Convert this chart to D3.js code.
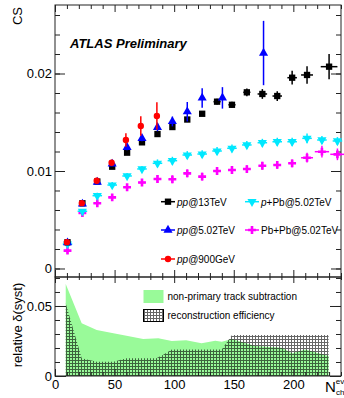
<!DOCTYPE html>
<html>
<head>
<meta charset="utf-8">
<script src="https://cdn.jsdelivr.net/npm/d3@7"></script>
<style>
  body { margin: 0; background: #fff; }
  svg { font-family: "Liberation Sans", Arial, Helvetica, sans-serif; }
</style>
</head>
<body>
<svg id="chart" width="344" height="398"></svg>
<script>
// bin centres (N_ch^ev)
const nBins = [10.5, 23, 35.5, 48, 60.5, 73, 86, 98.5, 111, 123.5, 136, 148.5, 161, 174, 186.5, 199, 211.5, 224, 237];

// pp @ 13 TeV
const n13 = [10.5, 23, 35.5, 48, 60.5, 73, 86, 98.5, 111, 123.5, 136, 148.5, 161, 174, 186.5, 199, 211.5, 230];
const cs13 = [0.00269, 0.00669, 0.00892, 0.01044, 0.01188, 0.01294, 0.01379, 0.01451, 0.01528, 0.01587, 0.01711, 0.01679, 0.01807, 0.0179, 0.01769, 0.01957, 0.01985, 0.0207];
const err13 = [0.0001, 0.0001, 0.0001, 0.0001, 0.0001, 0.0001, 0.0001, 0.0001, 0.0002, 0.0002, 0.0003, 0.0003, 0.0004, 0.0005, 0.0005, 0.0007, 0.0009, 0.0013];
const xerr13 = [0, 0, 0, 0, 0, 0, 0, 0, 0, 0, 3, 3, 3, 4, 4, 4, 5, 7];

// pp @ 5.02 TeV
const n5 = [10.5, 23, 35.5, 48, 60.5, 73, 86, 98.5, 111, 123.5, 140.5, 175];
const cs5 = [0.00265, 0.00662, 0.00887, 0.01072, 0.01243, 0.01335, 0.01448, 0.01508, 0.01608, 0.01749, 0.0175, 0.0221];
const err5 = [0.0001, 0.0001, 0.0002, 0.0002, 0.0003, 0.0003, 0.0004, 0.0005, 0.001, 0.001, 0.0011, 0.0033];

// pp @ 900 GeV
const n09 = [10, 22.5, 35, 47.5, 59.5, 72, 85.5];
const cs09 = [0.0027, 0.0067, 0.009, 0.01085, 0.01318, 0.01462, 0.01564];
const err09 = [0.0001, 0.0002, 0.0003, 0.0003, 0.0007, 0.001, 0.0014];

// p+Pb @ 5.02 TeV
const csPPb = [0.00251, 0.00587, 0.00747, 0.00856, 0.00949, 0.01021, 0.01079, 0.01106, 0.01164, 0.01174, 0.01205, 0.01233, 0.01267, 0.0129, 0.013, 0.013, 0.01335, 0.01318, 0.01308];
const errPPb = [0.0002, 0.0002, 0.0003, 0.0003, 0.0003, 0.0003, 0.0004, 0.0004, 0.0004, 0.0004, 0.0004, 0.0004, 0.0004, 0.0004, 0.0004, 0.0004, 0.0005, 0.0004, 0.0004];

// Pb+Pb @ 5.02 TeV
const csPbPb = [0.00183, 0.00569, 0.00669, 0.0073, 0.00833, 0.00882, 0.00918, 0.00915, 0.00976, 0.00942, 0.01, 0.0101, 0.0102, 0.01054, 0.01062, 0.01079, 0.01136, 0.01198, 0.01171];
const errPbPb = [0.0003, 0.0003, 0.0003, 0.0003, 0.0003, 0.0003, 0.0004, 0.0004, 0.0004, 0.0004, 0.0004, 0.0004, 0.0004, 0.0004, 0.0004, 0.0004, 0.0005, 0.0006, 0.0006];
const xerrPbPb = [3, 3, 3, 3, 3, 3, 3, 3, 3, 3, 3, 3, 3, 3, 3, 3, 5, 6, 6];

// relative systematics
const nNonPrim = [9, 22.4, 35, 49, 60, 74, 86.7, 98, 110, 123, 134.5, 140, 148.5, 168, 190.4, 199, 210, 229.6];
const nonPrim = [0.0657, 0.0376, 0.0329, 0.0305, 0.0288, 0.0264, 0.0269, 0.025, 0.0255, 0.0234, 0.0252, 0.0245, 0.0265, 0.0214, 0.0202, 0.0162, 0.019, 0.0143];
const nReco = [9, 22.4, 35, 49, 60, 85, 90.5, 98, 140, 148.5, 229.6];
const reco = [0.052, 0.0126, 0.0102, 0.0102, 0.0126, 0.0126, 0.015, 0.019, 0.019, 0.0293, 0.0293];

const xTicks = [0, 50, 100, 150, 200];
const yTopTicks = [0, 0.01, 0.02];
const yBotTicks = [0, 0.05];

const svg = d3.select("#chart");
const L = 55, R = 341, T = 5, M = 277, B = 376;

const x = d3.scaleLinear().domain([0, 240]).range([L, R]);
const y = d3.scaleLinear().domain([-0.000872, 0.027026]).range([M, T]);
const yb = d3.scaleLinear().domain([0, 0.0707]).range([B, M]);

const defs = svg.append("defs");
const pat = defs.append("pattern").attr("id", "hatch")
  .attr("width", 3).attr("height", 3).attr("patternUnits", "userSpaceOnUse");
pat.append("rect").attr("x", 0).attr("y", 0).attr("width", 1).attr("height", 3).attr("fill", "#000");
pat.append("rect").attr("x", 0).attr("y", 0).attr("width", 3).attr("height", 1).attr("fill", "#000");

// ---- bottom panel: systematics ----
const area = (xs) => d3.area().x((d, i) => x(xs[i])).y0(yb(0)).y1(d => yb(d));
svg.append("path").datum(nonPrim).attr("d", area(nNonPrim)).attr("fill", "#99fa99");
svg.append("path").datum(reco).attr("d", area(nReco)).attr("fill", "url(#hatch)").attr("opacity", 0.6);

// ---- axes with inner ticks on every side ----
function range(a, b, s) { const r = []; for (let v = a; v <= b + 1e-9; v += s) r.push(+v.toFixed(4)); return r; }
const xMinor = range(0, 240, 10).filter(v => v % 50 !== 0);
const yTopMinor = range(0, 0.026, 0.002);
const yBotMinor = range(0, 0.07, 0.01);

function tickGroup(axis, tx, ty) {
  const g = svg.append("g").attr("transform", `translate(${tx},${ty})`).call(axis);
  g.select(".domain").remove();
  g.selectAll("line").attr("stroke", "#222");
  return g;
}
// top panel
tickGroup(d3.axisBottom(x).tickValues(xTicks).tickSize(-7).tickFormat(""), 0, M);
tickGroup(d3.axisBottom(x).tickValues(xMinor).tickSize(-4).tickFormat(""), 0, M);
tickGroup(d3.axisTop(x).tickValues(xTicks).tickSize(-7).tickFormat(""), 0, T);
tickGroup(d3.axisTop(x).tickValues(xMinor).tickSize(-4).tickFormat(""), 0, T);
tickGroup(d3.axisLeft(y).tickValues(yTopMinor).tickSize(-5).tickFormat(""), L, 0);
tickGroup(d3.axisRight(y).tickValues(yTopMinor).tickSize(-5).tickFormat(""), R, 0);
tickGroup(d3.axisRight(y).tickValues(yTopTicks).tickSize(-10).tickFormat(""), R, 0);
const gyl = tickGroup(d3.axisLeft(y).tickValues(yTopTicks).tickSize(-10).tickPadding(3)
  .tickFormat(d => d === 0 ? "0" : d3.format(".2f")(d).replace(/0$/, "")), L, 0);
gyl.selectAll("text").attr("font-size", 13).attr("fill", "#000").attr("font-family", null);

// bottom panel
tickGroup(d3.axisTop(x).tickValues(xTicks).tickSize(-6).tickFormat(""), 0, M);
tickGroup(d3.axisTop(x).tickValues(xMinor).tickSize(-3).tickFormat(""), 0, M);
tickGroup(d3.axisBottom(x).tickValues(xMinor).tickSize(-4).tickFormat(""), 0, B);
const gxb = tickGroup(d3.axisBottom(x).tickValues(xTicks).tickSize(-7).tickPadding(4), 0, B);
gxb.selectAll("text").attr("font-size", 13).attr("fill", "#000").attr("font-family", null);
tickGroup(d3.axisLeft(yb).tickValues(yBotMinor).tickSize(-5).tickFormat(""), L, 0);
tickGroup(d3.axisRight(yb).tickValues(yBotMinor).tickSize(-5).tickFormat(""), R, 0);
tickGroup(d3.axisRight(yb).tickValues(yBotTicks).tickSize(-11).tickFormat(""), R, 0);
const gybl = tickGroup(d3.axisLeft(yb).tickValues(yBotTicks).tickSize(-11).tickPadding(3)
  .tickFormat(d => d === 0 ? "0" : d3.format(".2f")(d)), L, 0);
gybl.selectAll("text").attr("font-size", 13).attr("fill", "#000").attr("font-family", null);

// frames
svg.append("rect").attr("x", L).attr("y", T).attr("width", R - L).attr("height", M - T)
  .attr("fill", "none").attr("stroke", "#222");
svg.append("rect").attr("x", L).attr("y", M).attr("width", R - L).attr("height", B - M)
  .attr("fill", "none").attr("stroke", "#222");

// ---- top panel: data ----
const sym = {
  square: d3.symbol().type(d3.symbolSquare).size(40),
  tri: d3.symbol().type(d3.symbolTriangle).size(36),
  circle: d3.symbol().type(d3.symbolCircle).size(32),
  cross: d3.symbol().type(d3.symbolCross).size(34)
};

function series(xs, ys, es, xes, color, marker, rot) {
  const g = svg.append("g");
  const pts = ys.map((v, i) => ({ n: xs[i], v, e: es[i], xe: xes ? xes[i] : 0 }));
  g.selectAll(".ey").data(pts).join("line")
    .attr("x1", d => x(d.n)).attr("x2", d => x(d.n))
    .attr("y1", d => y(d.v - d.e)).attr("y2", d => y(d.v + d.e))
    .attr("stroke", color).attr("stroke-width", 1.5);
  g.selectAll(".ex").data(pts.filter(d => d.xe > 0)).join("line")
    .attr("x1", d => x(d.n - d.xe)).attr("x2", d => x(d.n + d.xe))
    .attr("y1", d => y(d.v)).attr("y2", d => y(d.v))
    .attr("stroke", color).attr("stroke-width", 1.5);
  g.selectAll("path").data(pts).join("path")
    .attr("d", sym[marker])
    .attr("transform", d => `translate(${x(d.n)},${y(d.v)})${rot ? " rotate(180)" : ""}`)
    .attr("fill", color);
}

const xePPb = nBins.map(() => 4);
series(nBins, csPbPb, errPbPb, xerrPbPb, "#ff00ff", "cross");
series(nBins, csPPb, errPPb, xePPb, "#00e8ff", "tri", true);
series(n13, cs13, err13, xerr13, "#000", "square");
series(n5, cs5, err5, null, "#0000ff", "tri");
series(n09, cs09, err09, null, "#ff0000", "circle");

// ---- texts ----
svg.append("text").attr("x", 70).attr("y", 48).attr("font-size", 13)
  .attr("font-weight", "bold").attr("font-style", "italic").text("ATLAS Preliminary");

svg.append("text").attr("transform", "translate(22,16) rotate(-90)")
  .attr("text-anchor", "middle").attr("font-size", 13).text("CS");

svg.append("text").attr("transform", "translate(22,325) rotate(-90)")
  .attr("text-anchor", "middle").attr("font-size", 13).text("relative δ(syst)");

const nl = svg.append("text").attr("x", 325).attr("y", 392).attr("font-size", 15);
nl.append("tspan").text("N");
nl.append("tspan").attr("font-size", 8).attr("dy", -8).text("ev");
nl.append("tspan").attr("font-size", 8).attr("x", 336).attr("dy", 11).text("ch");

// ---- legend (top panel) ----
const legItems = [
  { lx: 168, ly: 201.7, color: "#000", marker: "square", parts: [["pp", true], ["@13TeV", false]] },
  { lx: 168, ly: 230, color: "#0000ff", marker: "tri", parts: [["pp", true], ["@5.02TeV", false]] },
  { lx: 168, ly: 259, color: "#ff0000", marker: "circle", parts: [["pp", true], ["@900GeV", false]] },
  { lx: 252, ly: 201.7, color: "#00e8ff", marker: "tri", rot: true, parts: [["p", true], ["+Pb@5.02TeV", false]] },
  { lx: 252, ly: 230, color: "#ff00ff", marker: "cross", parts: [["Pb+Pb@5.02TeV", false]] }
];
legItems.forEach(it => {
  svg.append("line").attr("x1", it.lx - 7).attr("x2", it.lx + 7).attr("y1", it.ly).attr("y2", it.ly)
    .attr("stroke", it.color).attr("stroke-width", 1.5);
  svg.append("path").attr("d", sym[it.marker])
    .attr("transform", `translate(${it.lx},${it.ly})${it.rot ? " rotate(180)" : ""}`).attr("fill", it.color);
  const t = svg.append("text").attr("x", it.lx + 9).attr("y", it.ly + 4).attr("font-size", 10);
  it.parts.forEach(p => t.append("tspan").attr("font-style", p[1] ? "italic" : "normal").text(p[0]));
});

// ---- legend (bottom panel) ----
svg.append("rect").attr("x", 143.5).attr("y", 290).attr("width", 20).attr("height", 13).attr("fill", "#99fa99");
svg.append("text").attr("x", 167.5).attr("y", 300).attr("font-size", 10).text("non-primary track subtraction");
svg.append("rect").attr("x", 143.5).attr("y", 309.5).attr("width", 20).attr("height", 12)
  .attr("fill", "url(#hatch)").attr("fill-opacity", 0.6).attr("stroke", "#000");
svg.append("text").attr("x", 167.5).attr("y", 319).attr("font-size", 10).text("reconstruction efficiency");
</script>
</body>
</html>
